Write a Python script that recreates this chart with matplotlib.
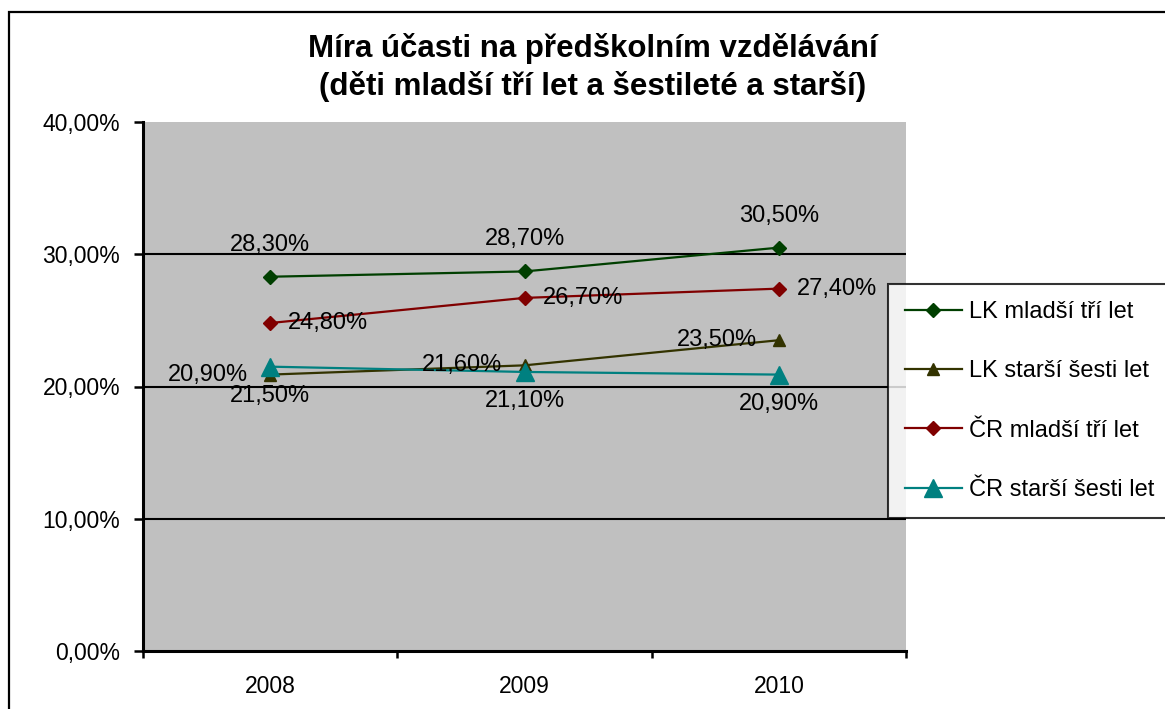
import matplotlib
matplotlib.use('Agg')
import matplotlib.pyplot as plt
from matplotlib.patches import Rectangle
from matplotlib.ticker import FixedLocator, FuncFormatter

plt.rcParams['font.family'] = ['Liberation Sans', 'DejaVu Sans']

years = ['2008', '2009', '2010']
lk_mladsi = [28.3, 28.7, 30.5]
lk_starsi = [20.9, 21.6, 23.5]
cr_mladsi = [24.8, 26.7, 27.4]
cr_starsi = [21.5, 21.1, 20.9]

names = ['LK mladší tří let', 'LK starší šesti let', 'ČR mladší tří let', 'ČR starší šesti let']
colors = ['#003f00', '#333300', '#800000', '#008080']

fig = plt.figure(figsize=(11.65, 7.09), dpi=100)
ax = fig.add_axes([143/1165, 1-651/709, (906-143)/1165, (651-122)/709])
ax.set_facecolor('#c0c0c0')

x = [i + 0.5 for i in range(len(years))]

# label placement: offset in pixels + alignment
series = [
    (lk_mladsi, 'D', 7, (0, 32), 'center'),
    (lk_starsi, '^', 9, (-22, 0), 'right'),
    (cr_mladsi, 'D', 7, (18, 0), 'left'),
    (cr_starsi, '^', 13, (0, -29), 'center'),
]
for (vals, mk, ms, off, ha), name, c in zip(series, names, colors):
    ax.plot(x, vals, color=c, lw=1.6, marker=mk, ms=ms, mfc=c, mec=c, label=name, zorder=3)
    for xi, v in zip(x, vals):
        ax.annotate(('%.2f%%' % v).replace('.', ','), (xi, v), xytext=off,
                    textcoords='offset pixels', ha=ha, va='center', fontsize=17, zorder=4)

ax.set_xlim(0, 3)
ax.set_ylim(0, 40)
ax.yaxis.set_major_locator(FixedLocator([0, 10, 20, 30, 40]))
ax.yaxis.set_major_formatter(FuncFormatter(lambda v, p: ('%.2f%%' % v).replace('.', ',')))
ax.tick_params(axis='y', length=6.5, width=1.8, pad=10, labelsize=16.5)
ax.set_xticks([0, 1, 2, 3])
ax.set_xticklabels([])
ax.set_xticks(x, minor=True)
ax.set_xticklabels(years, minor=True)
ax.tick_params(axis='x', which='major', length=5, width=1.8)
ax.tick_params(axis='x', which='minor', length=0, pad=17, labelsize=16.5)

for yv in [10, 20, 30]:
    ax.axhline(yv, color='black', lw=1.5, zorder=1)

ax.spines['top'].set_visible(False)
ax.spines['right'].set_visible(False)
ax.spines['left'].set_linewidth(2.2)
ax.spines['bottom'].set_linewidth(2.2)

fig.text(593/1165, 1-67.5/709, 'Míra účasti na předškolním vzdělávání\n(děti mladší tří let a šestileté a starší)',
         ha='center', va='center', fontsize=22.5, fontweight='bold', linespacing=1.25)

leg = fig.legend(loc='upper left', bbox_to_anchor=(888/1165, 1-284/709), fontsize=17,
                 frameon=True, fancybox=False, edgecolor='black', borderaxespad=0,
                 labelspacing=1.58, handlelength=2.4, handletextpad=0.3, borderpad=0.72)
leg.get_frame().set_linewidth(1.5)

fig.patches.append(Rectangle((9/1165, -0.1), 1.2, 1-12/709+0.1, transform=fig.transFigure,
                             fill=False, edgecolor='black', lw=1.6))

fig.savefig('out.png', dpi=100)
